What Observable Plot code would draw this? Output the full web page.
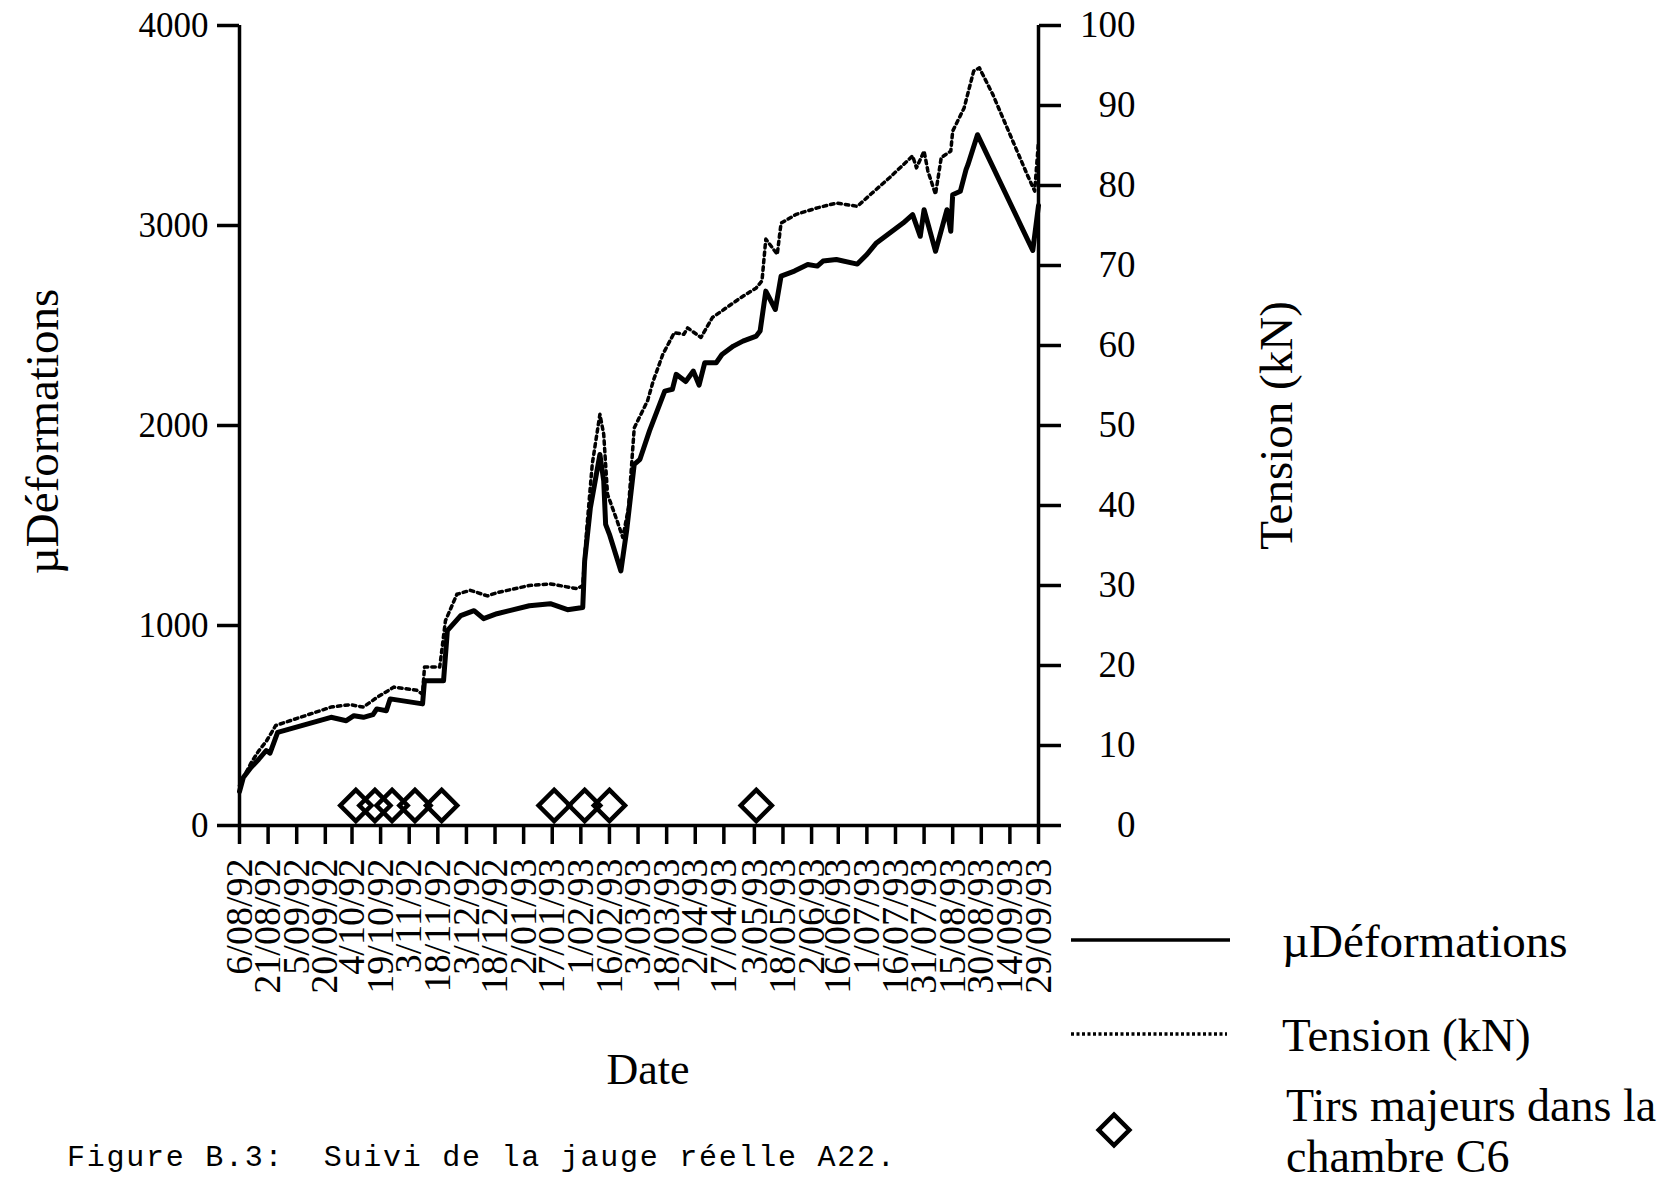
<!DOCTYPE html>
<html>
<head>
<meta charset="utf-8">
<script src="https://cdn.jsdelivr.net/npm/d3@7"></script>
<script src="https://cdn.jsdelivr.net/npm/@observablehq/plot@0.6"></script>
<style>
  body { margin: 0; background: #fff; }
  #wrap { position: relative; width: 1680px; height: 1183px; overflow: hidden; background: #fff; }
  #wrap > svg { position: absolute; left: 0; top: 0; }
</style>
</head>
<body>
<div id="wrap"></div>
<script>
// ---------- DATA ----------
const tickLabels = ["6/08/92","21/08/92","5/09/92","20/09/92","4/10/92","19/10/92","3/11/92","18/11/92",
  "3/12/92","18/12/92","2/01/93","17/01/93","1/02/93","16/02/93","3/03/93","18/03/93","2/04/93",
  "17/04/93","3/05/93","18/05/93","2/06/93","16/06/93","1/07/93","16/07/93","31/07/93","15/08/93",
  "30/08/93","14/09/93","29/09/93"];

const strainTicks = [0, 1000, 2000, 3000, 4000];
const tensionTicks = [0, 10, 20, 30, 40, 50, 60, 70, 80, 90, 100];

// µDéformations (solid line)
const strainDates = ["1992-08-06","1992-08-08","1992-08-12","1992-08-16","1992-08-20","1992-08-22","1992-08-26",
  "1992-09-23","1992-10-01","1992-10-05","1992-10-10","1992-10-15","1992-10-17","1992-10-22","1992-10-24",
  "1992-11-10","1992-11-11","1992-11-21","1992-11-23","1992-11-30","1992-12-07","1992-12-12","1992-12-19",
  "1993-01-05","1993-01-16","1993-01-25","1993-02-02","1993-02-03","1993-02-06","1993-02-11","1993-02-13",
  "1993-02-14","1993-02-16","1993-02-22","1993-02-25","1993-03-01","1993-03-04","1993-03-09","1993-03-17",
  "1993-03-21","1993-03-23","1993-03-28","1993-04-01","1993-04-04","1993-04-07","1993-04-13","1993-04-16",
  "1993-04-22","1993-04-27","1993-05-04","1993-05-06","1993-05-09","1993-05-14","1993-05-17","1993-05-24",
  "1993-05-31","1993-06-05","1993-06-08","1993-06-15","1993-06-26","1993-07-01","1993-07-06","1993-07-13",
  "1993-07-20","1993-07-25","1993-07-29","1993-07-31","1993-08-06","1993-08-12","1993-08-14","1993-08-15",
  "1993-08-19","1993-08-22","1993-08-23","1993-08-28","1993-09-26","1993-09-29"];
const strainValues = [170,240,290,330,375,362,466,
  541,524,549,541,554,583,574,633,
  608,724,724,974,1049,1074,1034,1059,
  1099,1109,1079,1090,1323,1589,1855,1723,
  1506,1456,1273,1473,1806,1831,1973,2172,
  2181,2256,2220,2272,2202,2314,2314,2355,
  2397,2422,2447,2472,2672,2580,2747,2772,
  2805,2797,2822,2830,2807,2855,2913,2963,
  3012,3054,2946,3079,2871,3079,2971,3154,
  3171,3279,3304,3454,2875,3100];

// Tension in kN (dotted line, right axis)
const tensionDates = ["1992-08-06","1992-08-12","1992-08-16","1992-08-20","1992-08-25","1992-09-23","1992-10-03",
  "1992-10-10","1992-10-17","1992-10-26","1992-11-07","1992-11-10","1992-11-11","1992-11-19","1992-11-22",
  "1992-11-28","1992-12-05","1992-12-14","1992-12-19","1993-01-05","1993-01-16","1993-01-23","1993-01-30",
  "1993-02-02","1993-02-04","1993-02-07","1993-02-11","1993-02-13","1993-02-15","1993-02-20","1993-02-23",
  "1993-02-26","1993-03-01","1993-03-08","1993-03-11","1993-03-16","1993-03-22","1993-03-27","1993-03-29",
  "1993-04-05","1993-04-11","1993-04-17","1993-04-26","1993-05-04","1993-05-07","1993-05-09","1993-05-15",
  "1993-05-17","1993-05-25","1993-06-05","1993-06-15","1993-06-26","1993-07-03","1993-07-13","1993-07-25",
  "1993-07-27","1993-07-31","1993-08-02","1993-08-06","1993-08-09","1993-08-14","1993-08-15","1993-08-21",
  "1993-08-26","1993-08-29","1993-09-05","1993-09-14","1993-09-23","1993-09-27","1993-09-29"];
const tensionValues = [5.0,7.8,9.3,10.5,12.5,14.8,15.1,
  14.8,16.0,17.3,16.9,16.4,19.8,19.8,25.6,
  28.9,29.4,28.7,29.1,30.0,30.2,29.9,29.6,
  30.0,36.8,45.2,51.4,48.9,41.4,38.1,36.0,
  39.7,49.7,53.1,55.6,58.9,61.6,61.4,62.2,
  61.0,63.5,64.5,66.0,67.2,68.1,73.3,71.4,
  75.3,76.4,77.2,77.8,77.4,78.9,81.0,83.7,
  82.2,84.3,81.8,78.9,83.5,84.3,86.8,89.7,
  94.3,94.7,91.4,86.4,81.4,79.3,85.5];

// Tirs majeurs dans la chambre C6 (diamonds)
const blastDates = ["1992-10-06","1992-10-16","1992-10-25","1992-11-06","1992-11-20",
  "1993-01-18","1993-02-03","1993-02-16","1993-05-04"];
const blastLevel = 100;

// ---------- BUILD ----------
const KN = 40; // 100 kN on the right axis ↔ 4000 µdef on the left axis
const parse = d3.utcParse("%Y-%m-%d");
const parseTick = d3.utcParse("%d/%m/%y");
const tickDates = tickLabels.map(parseTick);
const labelMap = new Map(tickDates.map((d, i) => [+d, tickLabels[i]]));
const strain = strainDates.map((d, i) => ({date: parse(d), value: strainValues[i]}));
const tension = tensionDates.map((d, i) => ({date: parse(d), kN: tensionValues[i]}));
const blasts = blastDates.map(d => ({date: parse(d), level: blastLevel}));
const xStart = parse("1992-08-06"), xEnd = parse("1993-09-29");

const serif = "'Liberation Serif', 'Times New Roman', Times, serif";

const plot = Plot.plot({
  width: 1680,
  height: 1183,
  marginLeft: 239,
  marginRight: 642,
  marginTop: 25,
  marginBottom: 358,
  style: {fontFamily: serif, color: "#000", background: "transparent", overflow: "visible"},
  x: {type: "utc", domain: [xStart, xEnd]},
  y: {domain: [0, 4000]},
  marks: [
    Plot.axisX({ticks: tickDates, tickFormat: d => labelMap.get(+d), tickRotate: -90,
      tickSize: 19, tickPadding: 14, fontSize: 38, strokeWidth: 3.5, label: null}),
    Plot.axisY({anchor: "left", ticks: strainTicks, tickFormat: d => String(d), tickSize: 22, tickPadding: 9,
      fontSize: 35, strokeWidth: 3.5, label: null}),
    Plot.axisY({anchor: "right", ticks: tensionTicks.map(t => t * KN), tickFormat: d => String(d / KN),
      tickSize: 22, tickPadding: 75, textAnchor: "end", fontSize: 37, strokeWidth: 3.5, label: null}),
    Plot.ruleX([xStart, xEnd], {strokeWidth: 3.5}),
    Plot.ruleY([0], {strokeWidth: 3.5}),
    Plot.line(tension, {x: "date", y: d => d.kN * KN, strokeWidth: 3.5, strokeDasharray: "3.5 4"}),
    Plot.line(strain, {x: "date", y: "value", strokeWidth: 5, strokeLinejoin: "round"}),
    Plot.dot(blasts, {x: "date", y: "level", symbol: "diamond2", r: 14, strokeWidth: 4.5, stroke: "#000", fill: "none"}),
    Plot.text(["Date"], {frameAnchor: "bottom", lineAnchor: "middle", textAnchor: "middle", dx: 9, dy: 244, fontSize: 44}),
    Plot.text(["µDéformations"], {frameAnchor: "left", lineAnchor: "middle", textAnchor: "middle", rotate: -90, dx: -197, dy: 6, fontSize: 47}),
    Plot.text(["Tension (kN)"], {frameAnchor: "right", lineAnchor: "middle", textAnchor: "middle", rotate: -90, dx: 238, dy: 0, fontSize: 47})
  ]
});

const wrap = document.getElementById("wrap");
wrap.appendChild(plot);

// ---------- LEGEND + CAPTION (overlay) ----------
const legendItems = [
  {label: ["µDéformations"], kind: "solid", cy: 940, baselines: [957], fs: 47},
  {label: ["Tension (kN)"], kind: "dotted", cy: 1034, baselines: [1051], fs: 47},
  {label: ["Tirs majeurs dans la", "chambre C6"], kind: "diamond", cy: 1130, baselines: [1121, 1172], fs: 46}
];
const ov = d3.create("svg").attr("width", 1680).attr("height", 1183)
  .style("position", "absolute").style("left", 0).style("top", 0);
const lg = ov.append("g").attr("font-family", serif).attr("fill", "#000");
for (const it of legendItems) {
  if (it.kind === "solid") {
    lg.append("line").attr("x1", 1071).attr("x2", 1230).attr("y1", it.cy).attr("y2", it.cy)
      .attr("stroke", "#000").attr("stroke-width", 3.5);
  } else if (it.kind === "dotted") {
    lg.append("line").attr("x1", 1071).attr("x2", 1227).attr("y1", it.cy).attr("y2", it.cy)
      .attr("stroke", "#000").attr("stroke-width", 3.5).attr("stroke-dasharray", "3 2.5");
  } else {
    lg.append("path").attr("d", d3.symbol(d3.symbolDiamond2, 600)())
      .attr("transform", `translate(1114,${it.cy})`)
      .attr("fill", "none").attr("stroke", "#000").attr("stroke-width", 4.5);
  }
  const x0 = it.kind === "diamond" ? 1286 : 1282;
  it.label.forEach((s, i) => {
    lg.append("text").attr("x", x0).attr("y", it.baselines[i]).attr("font-size", it.fs).text(s);
  });
}
ov.append("text").attr("x", 67).attr("y", 1166)
  .attr("font-family", "'Liberation Mono', 'Courier New', monospace").attr("font-size", 30)
  .attr("letter-spacing", 1.75)
  .attr("fill", "#000").style("white-space", "pre").attr("xml:space", "preserve")
  .text("Figure B.3:  Suivi de la jauge réelle A22.");
wrap.appendChild(ov.node());
</script>
</body>
</html>
